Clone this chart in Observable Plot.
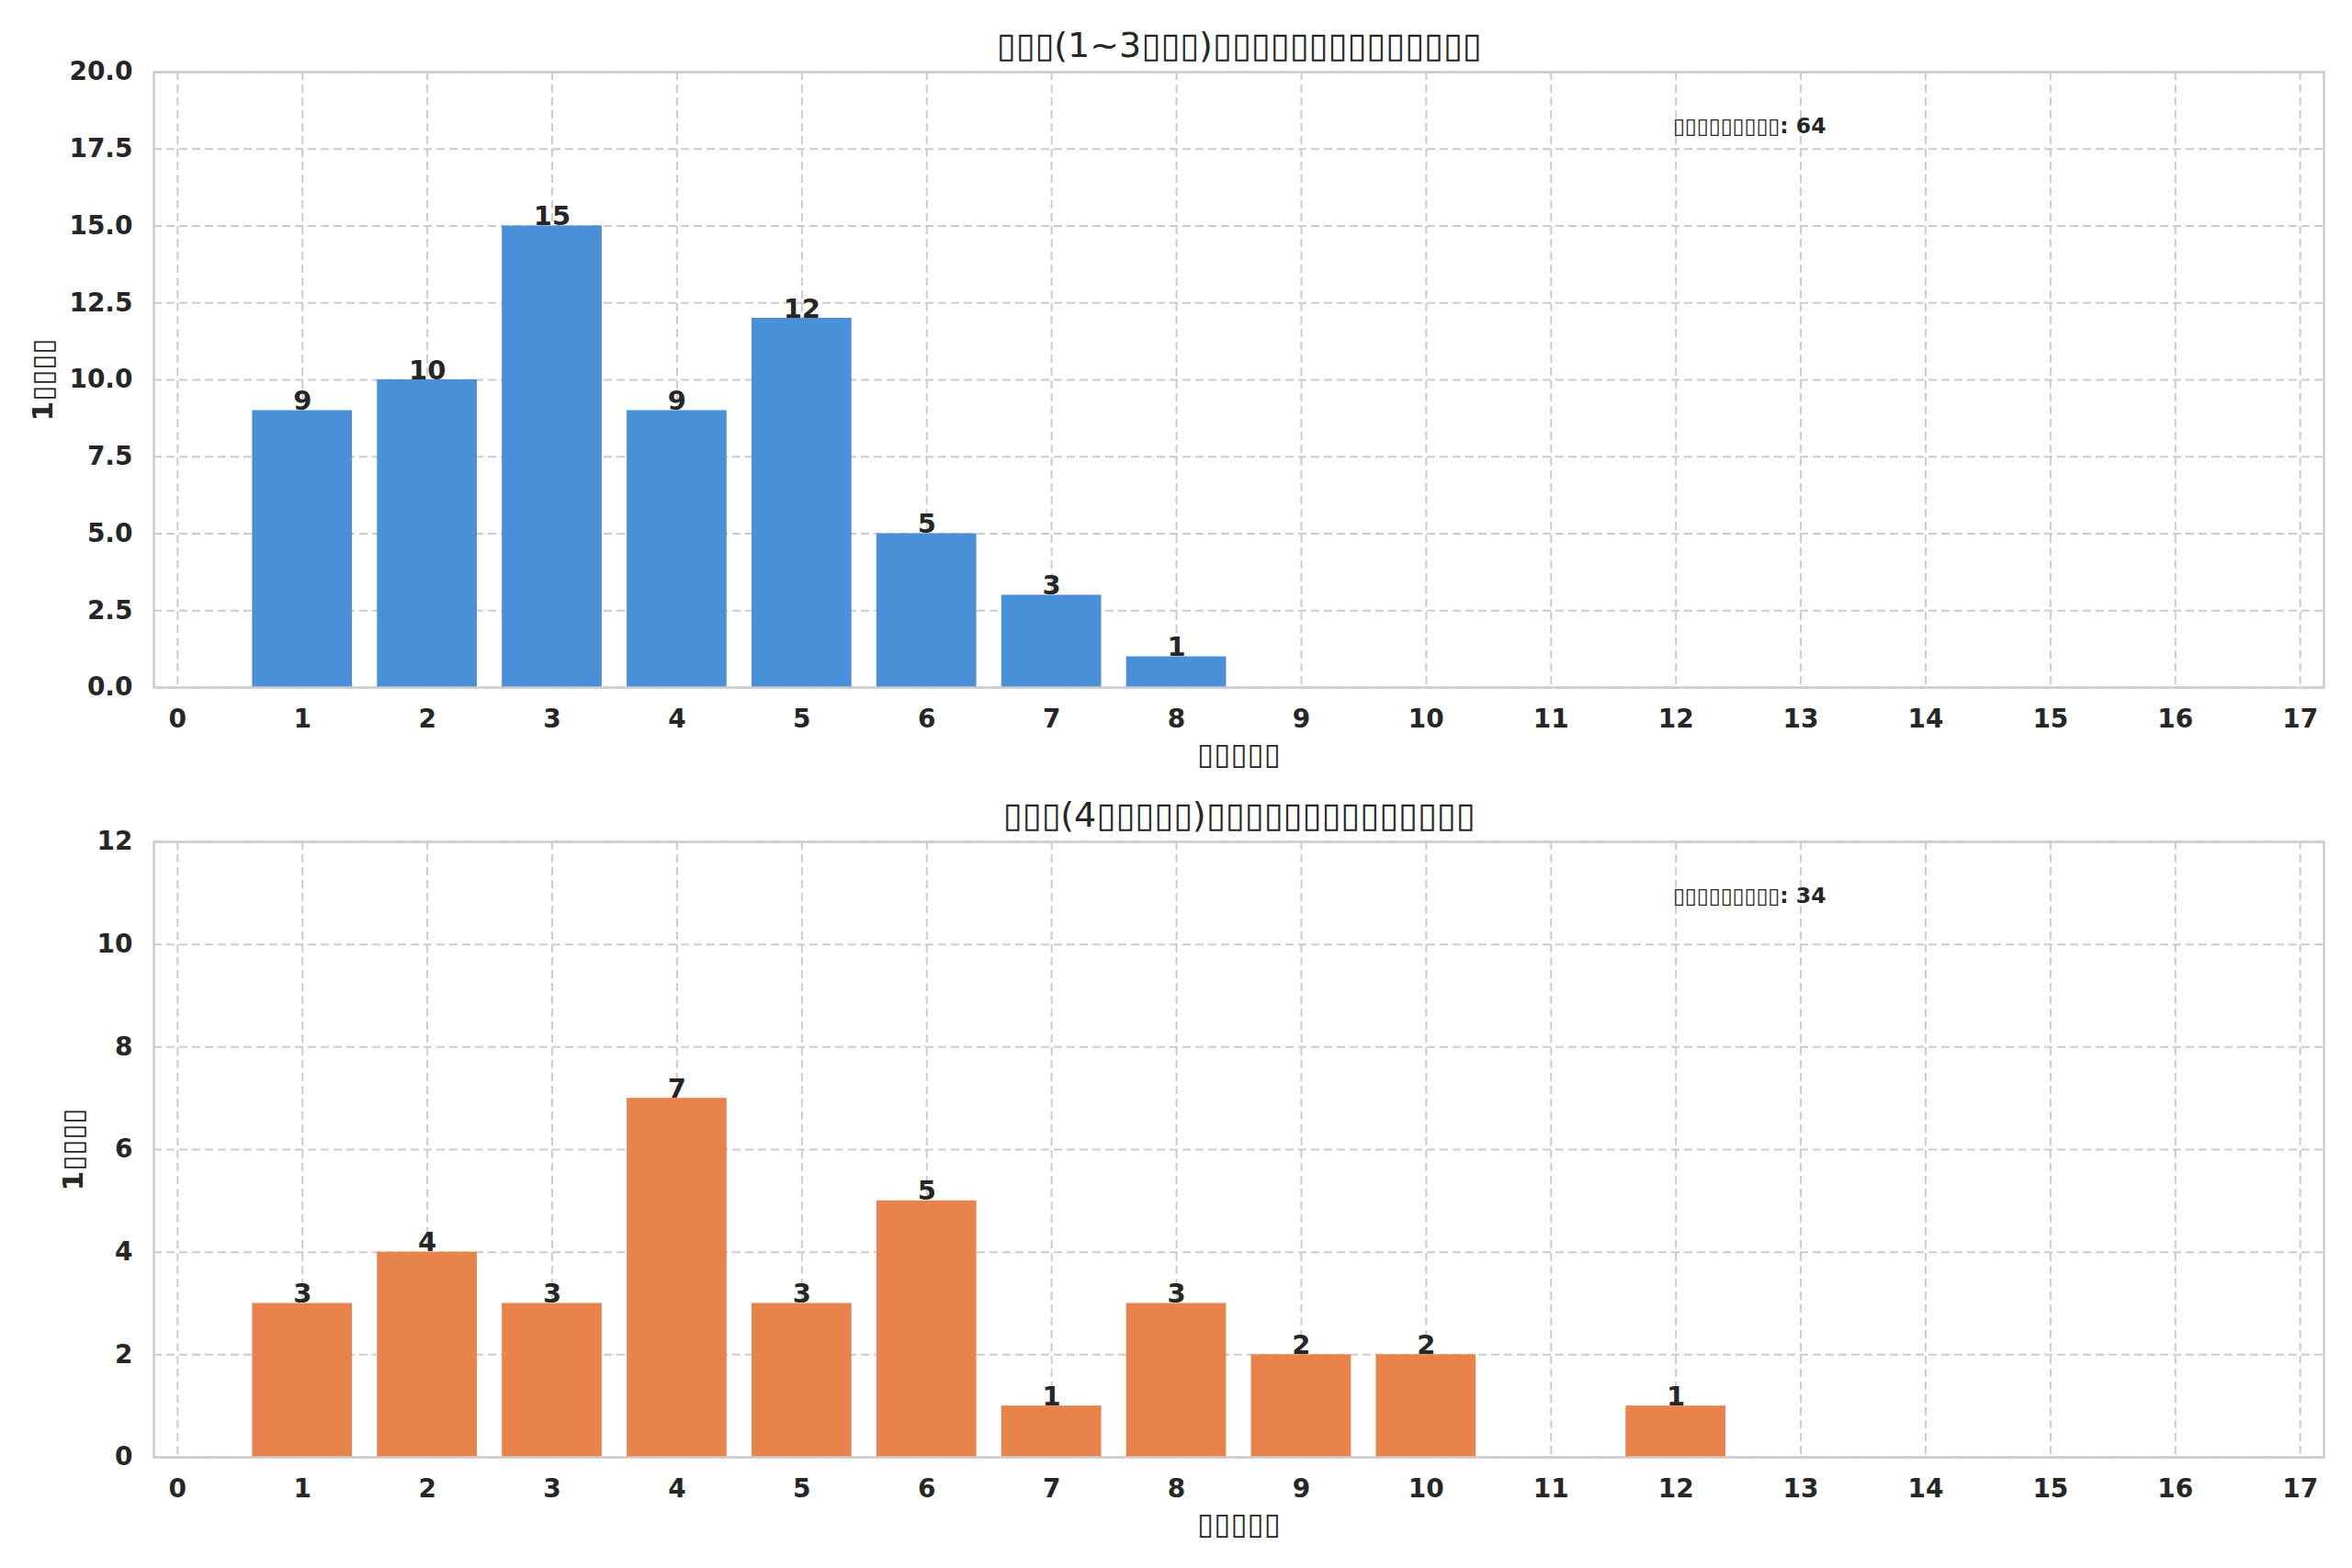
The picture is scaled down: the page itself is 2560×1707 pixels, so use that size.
<!DOCTYPE html>
<html>
<head>
<meta charset="utf-8">
<script src="https://cdn.jsdelivr.net/npm/d3@7"></script>
<script src="https://cdn.jsdelivr.net/npm/@observablehq/plot@0.6"></script>
<style>
  html, body { margin: 0; padding: 0; background: #fff; }
  #chart svg { display: block; }
</style>
</head>
<body>
<div id="chart"></div>
<script>
// Data (titles/labels rendered as in the reference: missing-glyph boxes)
const title1 = "▯▯▯(1~3▯▯▯)▯▯▯▯▯▯▯▯▯▯▯▯▯▯";
const title2 = "▯▯▯(4▯▯▯▯▯)▯▯▯▯▯▯▯▯▯▯▯▯▯▯";
const xLabel = "▯▯▯▯▯";
const yLabel = "1▯▯▯▯";
const notePrefix = "▯▯▯▯▯▯▯▯▯";

const months1 = [1, 2, 3, 4, 5, 6, 7, 8];
const counts1 = [9, 10, 15, 9, 12, 5, 3, 1];
const months2 = [1, 2, 3, 4, 5, 6, 7, 8, 9, 10, 12];
const counts2 = [3, 4, 3, 7, 3, 5, 1, 3, 2, 2, 1];

const xTicks = d3.range(0, 18);
const yTicks1 = [0, 2.5, 5, 7.5, 10, 12.5, 15, 17.5, 20];
const yTicks2 = [0, 2, 4, 6, 8, 10, 12];
const xDomain = [-0.19, 17.19];

const textColor = "#262626";
const gridColor = "#cccccc";

function panel({months, counts, color, title, yTicks, yDomain, yFormat, height, marginTop, marginBottom, yLabelOffset}) {
  const data = months.map((m, i) => ({month: m, count: counts[i]}));
  const total = d3.sum(counts);
  const marginLeft = 167, marginRight = 31, width = 2560;
  const frameW = width - marginLeft - marginRight;
  const frameH = height - marginTop - marginBottom;
  return Plot.plot({
    width, height, marginTop, marginBottom, marginLeft, marginRight,
    style: {fontFamily: "'DejaVu Sans', sans-serif", color: textColor, background: "#fff"},
    x: {domain: xDomain, ticks: xTicks},
    y: {domain: yDomain, ticks: yTicks},
    marks: [
      Plot.gridX(xTicks, {stroke: gridColor, strokeOpacity: 1, strokeWidth: 2, strokeDasharray: "9,5"}),
      Plot.gridY(yTicks, {stroke: gridColor, strokeOpacity: 1, strokeWidth: 2, strokeDasharray: "9,5"}),
      Plot.rectY(data, {x1: d => d.month - 0.4, x2: d => d.month + 0.4, y1: 0, y2: "count", fill: color}),
      Plot.frame({stroke: gridColor, strokeWidth: 2.5}),
      Plot.axisX(xTicks, {tickSize: 0, tickPadding: 24, fontSize: 28, fontWeight: "bold", label: null, tickFormat: d => String(d)}),
      Plot.axisY(yTicks, {tickSize: 0, tickPadding: 23, fontSize: 28, fontWeight: "bold", label: null, tickFormat: yFormat}),
      Plot.text(data, {x: "month", y: "count", text: d => String(d.count), lineAnchor: "bottom", dy: -1, fontSize: 29, fontWeight: "bold", fill: textColor}),
      Plot.text([title], {frameAnchor: "top", lineAnchor: "middle", dy: -29, fontSize: 38, fill: textColor}),
      Plot.text([xLabel], {frameAnchor: "bottom", textAnchor: "middle", lineAnchor: "middle", dy: 73, fontSize: 33, fill: textColor}),
      Plot.text([yLabel], {frameAnchor: "left", textAnchor: "middle", lineAnchor: "middle", rotate: -90, dx: -yLabelOffset, fontSize: 31, fontWeight: "bold", fill: textColor}),
      Plot.text([`${notePrefix}: ${total}`], {frameAnchor: "top-left", textAnchor: "start", lineAnchor: "middle", dx: 0.7 * frameW, dy: 0.1 * frameH - 8, fontSize: 23.5, fontWeight: "bold", fill: textColor})
    ]
  });
}

const chart = document.getElementById("chart");
chart.append(panel({
  months: months1, counts: counts1, color: "#4A90D9", title: title1,
  yTicks: yTicks1, yDomain: [0, 20], yFormat: d3.format(".1f"),
  height: 853, marginTop: 78, marginBottom: 105, yLabelOffset: 120
}));
chart.append(panel({
  months: months2, counts: counts2, color: "#E8844B", title: title2,
  yTicks: yTicks2, yDomain: [0, 12], yFormat: d => String(d),
  height: 854, marginTop: 63, marginBottom: 121, yLabelOffset: 87
}));
</script>
</body>
</html>
